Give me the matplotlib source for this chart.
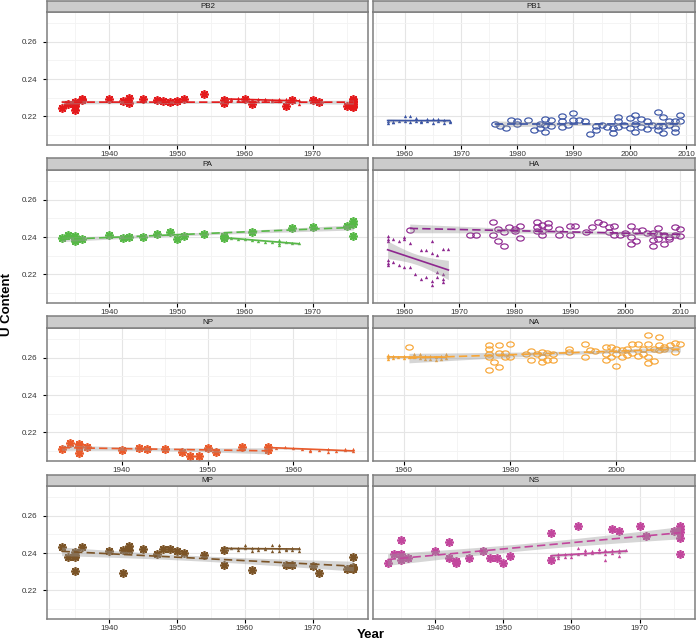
import matplotlib
matplotlib.use('Agg')
import matplotlib.pyplot as plt
import numpy as np
from matplotlib.path import Path
from matplotlib.ticker import MultipleLocator

plt.rcParams['font.family'] = ['Liberation Sans', 'DejaVu Sans']

# ---- data -----------------------------------------------------------------
GENES = ['PB2', 'PB1', 'PA', 'HA', 'NP', 'NA', 'MP', 'NS']
COLORS = ['#E41A1C', '#3953A4', '#57B947', '#8E278F',
          '#EA5B2B', '#F7A535', '#7B5427', '#C2479D']
TICK_STEP = [10, 10, 10, 10, 10, 20, 10, 10]

# asterisk series (1933-1976)
PB2_STAR_YEAR = [1933, 1934, 1935, 1935, 1935, 1935, 1936, 1936, 1940, 1942, 1943, 1943, 1945,
                 1947, 1948, 1949, 1950, 1951, 1954, 1957, 1957, 1960, 1961, 1966, 1967, 1970,
                 1971, 1975, 1976, 1976, 1976, 1976, 1976, 1976]
PB2_STAR_U = [.2245, .2265, .2277, .2265, .2254, .2236, .2292, .2288, .2292, .2283, .2297, .2272,
              .2292, .2288, .2283, .2277, .2283, .2292, .2321, .2290, .2272, .2292, .2267, .2254,
              .2290, .2288, .2277, .2254, .2295, .2285, .2275, .2265, .2255, .2250]

PA_STAR_YEAR = [1933, 1934, 1935, 1935, 1935, 1936, 1940, 1942, 1943, 1945, 1947, 1949, 1950,
                1951, 1954, 1957, 1957, 1961, 1967, 1970, 1975, 1976, 1976, 1976]
PA_STAR_U = [.2393, .2409, .2404, .2382, .2389, .2389, .2411, .2395, .2400, .2400, .2418, .2425,
             .2391, .2405, .2418, .2407, .2395, .2425, .2449, .2454, .2461, .2486, .2472, .2407]

NP_STAR_YEAR = [1933, 1934, 1935, 1935, 1935, 1936, 1940, 1942, 1943, 1945, 1947, 1948, 1949,
                1950, 1951, 1954, 1957, 1957]
NP_STAR_U = [.2110, .2144, .2137, .2128, .2092, .2123, .2105, .2115, .2112, .2112, .2097, .2076,
             .2076, .2115, .2097, .2124, .2123, .2108]

MP_STAR_YEAR = [1933, 1934, 1935, 1935, 1935, 1935, 1936, 1940, 1942, 1942, 1943, 1943, 1945,
                1947, 1948, 1949, 1950, 1951, 1954, 1957, 1957, 1961, 1966, 1967, 1970, 1971,
                1975, 1976, 1976, 1976, 1976]
MP_STAR_U = [.2431, .2378, .2404, .2378, .2306, .2392, .2431, .2411, .2418, .2295, .2440, .2418,
             .2420, .2398, .2422, .2422, .2409, .2400, .2389, .2418, .2338, .2308, .2338, .2338,
             .2329, .2295, .2317, .2380, .2328, .2317, .2322]

NS_STAR_YEAR = [1933, 1934, 1935, 1935, 1935, 1936, 1940, 1942, 1942, 1943, 1943, 1945, 1947,
                1948, 1949, 1950, 1951, 1957, 1957, 1961, 1966, 1967, 1970, 1971, 1975, 1976,
                1976, 1976, 1976, 1976]
NS_STAR_U = [.2349, .2398, .2471, .2398, .2364, .2375, .2409, .2458, .2375, .2358, .2349, .2375,
             .2409, .2375, .2375, .2349, .2386, .2507, .2364, .2543, .2530, .2519, .2543, .2494,
             .2519, .2543, .2530, .2512, .2481, .2398]

# small-triangle series (1957-1968)
PB2_TRI_YEAR = [1957, 1957, 1957, 1958, 1958, 1959, 1959, 1960, 1960, 1961, 1961, 1962, 1962,
                1963, 1963, 1964, 1964, 1965, 1965, 1966, 1966, 1967, 1967, 1968, 1968]
PB2_TRI_U = [.2305, .2295, .2285, .2292, .2290, .2298, .2290, .2295, .2288, .2290, .2282, .2293,
             .2285, .2288, .2295, .2285, .2290, .2292, .2282, .2285, .2292, .2295, .2285, .2288,
             .2265]

PB1_TRI_YEAR = [1957, 1957, 1958, 1958, 1959, 1960, 1960, 1961, 1961, 1962, 1962, 1963, 1963,
                1964, 1964, 1965, 1965, 1966, 1966, 1967, 1967, 1968, 1968]
PB1_TRI_U = [.2175, .2165, .2172, .2168, .2176, .2202, .2178, .2205, .2172, .2192, .2175, .2178,
             .2168, .2188, .2174, .2186, .2165, .2188, .2174, .2183, .2165, .2178, .2168]

PA_TRI_YEAR = [1957, 1957, 1958, 1959, 1960, 1961, 1962, 1963, 1964, 1965, 1965, 1965, 1966,
               1967, 1968]
PA_TRI_U = [.2402, .2396, .2398, .2389, .2389, .2385, .2380, .2375, .2375, .2370, .2385, .2360,
            .2375, .2370, .2368]

HA_TRI_YEAR = [1957, 1957, 1957, 1957, 1957, 1957, 1958, 1958, 1959, 1959, 1960, 1960, 1960,
               1961, 1961, 1962, 1963, 1963, 1964, 1964, 1965, 1965, 1965, 1965, 1966, 1966,
               1966, 1967, 1967, 1967, 1967, 1968]
HA_TRI_U = [.2405, .2380, .2390, .2275, .2260, .2250, .2390, .2265, .2380, .2250, .2400, .2388,
            .2241, .2370, .2238, .2202, .2332, .2175, .2332, .2187, .2377, .2314, .2142, .2166,
            .2306, .2211, .2184, .2337, .2202, .2175, .2157, .2339]

NP_TRI_YEAR = [1957, 1958, 1959, 1960, 1961, 1962, 1962, 1963, 1964, 1964, 1965, 1966, 1966,
               1967, 1967]
NP_TRI_U = [.2121, .2119, .2122, .2118, .2112, .2100, .2108, .2104, .2096, .2110, .2100, .2104,
            .2112, .2100, .2110]

NA_TRI_YEAR = [1957, 1957, 1957, 1958, 1958, 1959, 1960, 1960, 1961, 1962, 1962, 1963, 1963,
               1964, 1964, 1965, 1965, 1966, 1966, 1967, 1967, 1968, 1968]
NA_TRI_U = [.2615, .2605, .2595, .2608, .2598, .2602, .2612, .2600, .2605, .2620, .2602, .2618,
            .2598, .2610, .2592, .2612, .2595, .2605, .2590, .2608, .2595, .2620, .2598]

MP_TRI_YEAR = [1957, 1957, 1958, 1959, 1959, 1960, 1960, 1961, 1961, 1962, 1962, 1963, 1963,
               1964, 1964, 1965, 1965, 1965, 1966, 1966, 1967, 1967, 1968, 1968]
MP_TRI_U = [.2425, .2418, .2428, .2425, .2418, .2442, .2425, .2430, .2412, .2425, .2418, .2430,
            .2420, .2442, .2412, .2442, .2425, .2412, .2422, .2418, .2425, .2415, .2430, .2412]

NS_TRI_YEAR = [1957, 1957, 1958, 1958, 1958, 1959, 1959, 1960, 1960, 1961, 1961, 1962, 1962,
               1962, 1963, 1963, 1964, 1964, 1965, 1965, 1965, 1966, 1966, 1967, 1967, 1967, 1968]
NS_TRI_U = [.2386, .2375, .2398, .2386, .2375, .2393, .2380, .2393, .2380, .2425, .2393, .2418,
            .2405, .2395, .2411, .2400, .2420, .2405, .2415, .2395, .2365, .2418, .2402, .2418,
            .2405, .2385, .2415]

# open-oval series (1961-2012)
PB1_OVAL_YEAR = [1976, 1977, 1978, 1979, 1980, 1980, 1982, 1983, 1984, 1984, 1985, 1985, 1985,
                 1986, 1986, 1988, 1988, 1988, 1989, 1990, 1990, 1991, 1992, 1993, 1994, 1994,
                 1995, 1996, 1997, 1997, 1998, 1998, 1998, 1999, 2000, 2000, 2001, 2001, 2001,
                 2002, 2002, 2003, 2003, 2004, 2005, 2005, 2005, 2006, 2006, 2006, 2007, 2007,
                 2008, 2008, 2008, 2009, 2009]
PB1_OVAL_U = [.2162, .2147, .2140, .2180, .2176, .2162, .2182, .2127, .2140, .2158, .2185, .2155,
              .2118, .2182, .2149, .2204, .2176, .2144, .2155, .2216, .2180, .2180, .2173, .2107,
              .2149, .2127, .2155, .2144, .2140, .2109, .2198, .2176, .2144, .2155, .2191, .2140,
              .2209, .2162, .2118, .2185, .2144, .2176, .2131, .2155, .2225, .2149, .2125, .2195,
              .2149, .2113, .2176, .2155, .2176, .2140, .2118, .2209, .2173]

HA_OVAL_YEAR = [1961, 1972, 1973, 1976, 1976, 1977, 1977, 1978, 1978, 1979, 1980, 1980, 1981,
                1981, 1984, 1984, 1984, 1985, 1985, 1985, 1986, 1986, 1988, 1988, 1990, 1990,
                1991, 1993, 1994, 1995, 1996, 1997, 1997, 1998, 1998, 1999, 2000, 2001, 2001,
                2001, 2002, 2002, 2003, 2004, 2005, 2005, 2005, 2006, 2006, 2006, 2007, 2007,
                2008, 2008, 2009, 2009, 2010, 2010]
HA_OVAL_U = [.2440, .2414, .2414, .2481, .2409, .2445, .2382, .2427, .2350, .2454, .2445, .2432,
             .2458, .2396, .2481, .2454, .2432, .2463, .2432, .2409, .2476, .2454, .2445, .2409,
             .2458, .2409, .2458, .2427, .2454, .2481, .2468, .2454, .2427, .2458, .2409, .2409,
             .2422, .2458, .2400, .2364, .2432, .2382, .2436, .2422, .2422, .2386, .2350, .2450,
             .2418, .2391, .2409, .2364, .2400, .2389, .2454, .2409, .2445, .2404]

NA_OVAL_YEAR = [1961, 1976, 1976, 1976, 1976, 1976, 1977, 1978, 1978, 1978, 1979, 1979, 1980,
                1980, 1983, 1984, 1984, 1985, 1986, 1986, 1986, 1987, 1987, 1988, 1988, 1991,
                1991, 1994, 1994, 1995, 1996, 1998, 1998, 1998, 1999, 1999, 2000, 2000, 2000,
                2001, 2001, 2002, 2002, 2003, 2003, 2004, 2004, 2005, 2005, 2006, 2006, 2006,
                2006, 2007, 2007, 2008, 2008, 2008, 2009, 2009, 2010, 2011, 2011, 2012]
NA_OVAL_U = [.2659, .2668, .2645, .2623, .2602, .2537, .2578, .2668, .2627, .2551, .2627, .2602,
             .2674, .2605, .2623, .2638, .2591, .2623, .2632, .2602, .2578, .2627, .2591, .2623,
             .2587, .2650, .2632, .2674, .2605, .2641, .2638, .2659, .2623, .2587, .2659, .2605,
             .2650, .2623, .2555, .2641, .2605, .2650, .2614, .2674, .2627, .2674, .2609, .2650,
             .2623, .2723, .2674, .2605, .2573, .2645, .2584, .2714, .2668, .2641, .2659, .2645,
             .2668, .2677, .2632, .2674]

STAR = {'PB2': (PB2_STAR_YEAR, PB2_STAR_U), 'PA': (PA_STAR_YEAR, PA_STAR_U),
        'NP': (NP_STAR_YEAR, NP_STAR_U), 'MP': (MP_STAR_YEAR, MP_STAR_U),
        'NS': (NS_STAR_YEAR, NS_STAR_U)}
TRI = {'PB2': (PB2_TRI_YEAR, PB2_TRI_U), 'PB1': (PB1_TRI_YEAR, PB1_TRI_U),
       'PA': (PA_TRI_YEAR, PA_TRI_U), 'HA': (HA_TRI_YEAR, HA_TRI_U),
       'NP': (NP_TRI_YEAR, NP_TRI_U), 'NA': (NA_TRI_YEAR, NA_TRI_U),
       'MP': (MP_TRI_YEAR, MP_TRI_U), 'NS': (NS_TRI_YEAR, NS_TRI_U)}
OVAL = {'PB1': (PB1_OVAL_YEAR, PB1_OVAL_U), 'HA': (HA_OVAL_YEAR, HA_OVAL_U),
        'NA': (NA_OVAL_YEAR, NA_OVAL_U)}

Y_LIM = (0.2047, 0.2760)

# ---- layout (pixels) -------------------------------------------------------
W, H = 696, 644
COL_LEFT = [47, 373]
COL_W = [321, 322]
ROW_TOP = [0.5, 158.5, 316.5, 474.5]
STRIP_H = 11.5
PANEL_H = 133

BORDER = '#7F7F7F'
unit = Path.unit_circle()
OVAL_MARK = Path(unit.vertices * [1.45, 1.0], unit.codes)


def box(left, top, width, height):
    return [left / W, 1 - (top + height) / H, width / W, height / H]


def smooth(ax, x, y, color, ls):
    x = np.asarray(x, float)
    y = np.asarray(y, float)
    b, a = np.polyfit(x, y, 1)
    xs = np.linspace(x.min(), x.max(), 80)
    fit = a + b * xs
    resid = y - (a + b * x)
    n = len(x)
    s = np.sqrt(resid @ resid / (n - 2))
    se = s * np.sqrt(1 / n + (xs - x.mean()) ** 2 / ((x - x.mean()) ** 2).sum())
    ax.fill_between(xs, fit - 2.0 * se, fit + 2.0 * se, color='#999999', alpha=0.4,
                    lw=0, zorder=3)
    line, = ax.plot(xs, fit, color=color, lw=1.2, zorder=4)
    if ls == 'dashed':
        line.set_dashes((5, 2.5))


fig = plt.figure(figsize=(W / 100, H / 100), dpi=100)

for i, gene in enumerate(GENES):
    row, col = divmod(i, 2)
    color = COLORS[i]
    top = ROW_TOP[row]

    ax = fig.add_axes(box(COL_LEFT[col], top + STRIP_H, COL_W[col], PANEL_H))
    years = []
    if gene in STAR:
        x, y = STAR[gene]
        years += x
        ax.plot(x, y, ls='none', marker=(8, 2, 0), ms=6.2, mew=1.25, color=color, zorder=2)
    if gene in OVAL:
        x, y = OVAL[gene]
        years += x
        ax.plot(x, y, ls='none', marker=OVAL_MARK, ms=5.4, mew=0.85, mfc='none',
                mec=color, zorder=2)
    x, y = TRI[gene]
    years += x
    ax.plot(x, y, ls='none', marker='^', ms=2.4, mew=0, color=color, zorder=2)

    if gene in STAR:
        smooth(ax, *STAR[gene], color, 'dashed')
    if gene in OVAL:
        smooth(ax, *OVAL[gene], color, 'dashed')
    smooth(ax, *TRI[gene], color, 'solid')

    lo, hi = min(years), max(years)
    pad = 0.05 * (hi - lo)
    ax.set_xlim(lo - pad, hi + pad)
    ax.set_ylim(*Y_LIM)

    step = TICK_STEP[i]
    ax.xaxis.set_major_locator(MultipleLocator(step))
    ax.xaxis.set_minor_locator(MultipleLocator(step / 2))
    ax.yaxis.set_major_locator(MultipleLocator(0.02))
    ax.yaxis.set_minor_locator(MultipleLocator(0.01))
    ax.grid(which='major', color='#E5E5E5', lw=0.8, zorder=0)
    ax.grid(which='minor', color='#F3F3F3', lw=0.6, zorder=0)
    ax.set_axisbelow(True)

    ax.tick_params(which='minor', length=0)
    ax.tick_params(which='major', length=3, width=0.8, color='black',
                   labelsize=5.8, labelcolor='#333333')
    ax.tick_params(axis='x', pad=1.5)
    ax.tick_params(axis='y', pad=4.0)
    ax.xaxis.set_major_formatter(plt.FuncFormatter(lambda v, p: '%d' % v))
    if col == 0:
        ax.yaxis.set_major_formatter(plt.FuncFormatter(lambda v, p: '%.2f' % v))
    else:
        ax.tick_params(axis='y', length=0, labelleft=False)
    for sp in ax.spines.values():
        sp.set_color(BORDER)
        sp.set_linewidth(1.1)

    sax = fig.add_axes(box(COL_LEFT[col], top, COL_W[col], STRIP_H))
    sax.set_facecolor('#CCCCCC')
    sax.set_xticks([])
    sax.set_yticks([])
    for sp in sax.spines.values():
        sp.set_color(BORDER)
        sp.set_linewidth(1.1)
    sax.text(0.5, 0.45, gene, ha='center', va='center', fontsize=5.8,
             color='#1a1a1a', transform=sax.transAxes)

fig.text(7.5 / W, 1 - 305 / H, 'U Content', rotation=90, ha='center', va='center',
         fontsize=9.5, fontweight='bold')
fig.text(371 / W, 1 - 635 / H, 'Year', ha='center', va='center',
         fontsize=9.5, fontweight='bold')

fig.savefig('out.png', dpi=100)
